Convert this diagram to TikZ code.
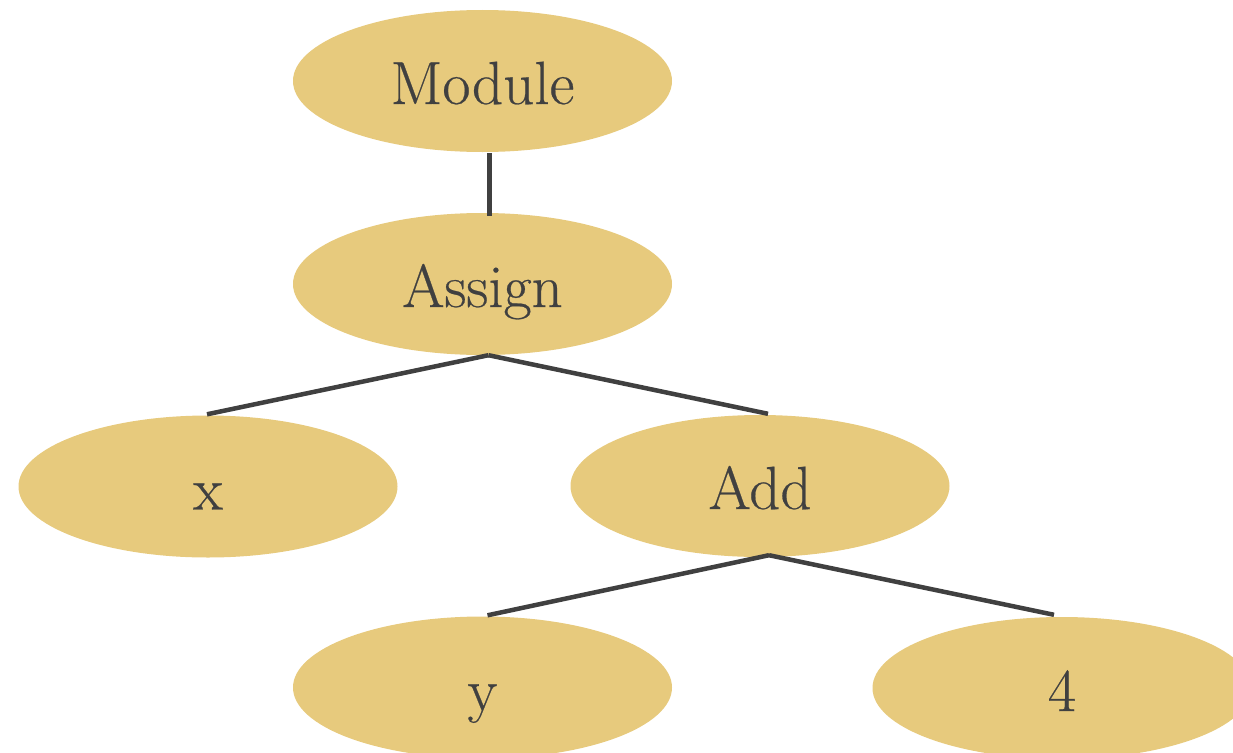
\documentclass[tikz,border=0pt]{standalone}
\usepackage{fontspec}
\setmainfont{Latin Modern Roman}[FakeBold=0.4]
\usetikzlibrary{shapes.geometric,calc}
\definecolor{nodefill}{HTML}{E7CA7D}
\definecolor{ink}{HTML}{404040}
\begin{document}
\begin{tikzpicture}[x=1pt,y=-1pt,
  treenode/.style={ellipse, fill=nodefill, inner sep=0pt, minimum width=379pt,
    minimum height=142pt, text=ink, font=\fontsize{61}{63}\selectfont,
    text height=48pt, text depth=2pt},
  link/.style={draw=ink, line width=4.5pt}]
\useasboundingbox (0,0) rectangle (1233,752);
\clip (0,0) rectangle (1233,752);
\node[treenode] (m)  at (482.5,81)    {Module};
\node[treenode] (a)  at (482.5,284)   {Assign};
\node[treenode] (x)  at (208,486.5)   {x};
\node[treenode] (ad) at (760,486)     {Add};
\node[treenode] (y)  at (482.5,687.5) {y};
\node[treenode] (f)  at (1062,688)    {4};
\draw[link] ($(m.south)+(7,1)$) -- ($(a.north)+(7,3)$);
\draw[link] ($(a.south)+(6,0)$) -- ($(x.north)+(-1,-1)$);
\draw[link] ($(a.south)+(6,0)$) -- ($(ad.north)+(8,-1)$);
\draw[link] ($(ad.south)+(9,-2)$) -- ($(y.north)+(5,-1)$);
\draw[link] ($(ad.south)+(9,-2)$) -- ($(f.north)+(-8,-2)$);
\end{tikzpicture}
\end{document}
